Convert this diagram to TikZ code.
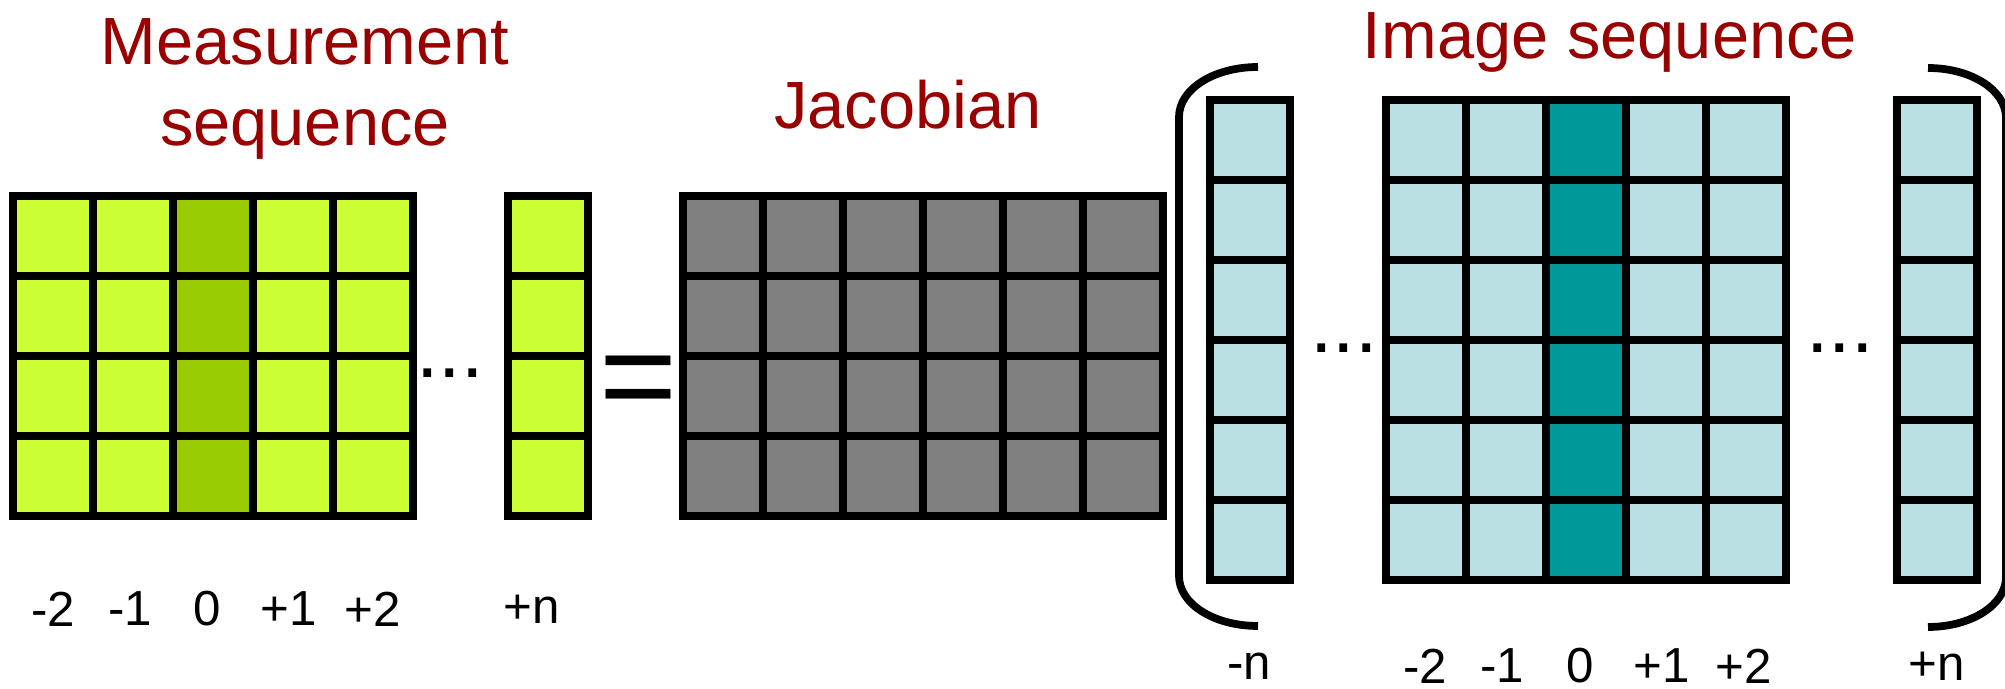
\documentclass[tikz,border=0pt]{standalone}
\usepackage{fontspec}
\setmainfont{Liberation Sans}
\usepackage{xcolor}
\usepackage{tikz}
\usetikzlibrary{positioning}
\definecolor{measgreen}{RGB}{204,255,51}
\definecolor{measdark}{RGB}{153,204,0}
\definecolor{jacgray}{RGB}{128,128,128}
\definecolor{imgblue}{RGB}{187,224,227}
\definecolor{imgteal}{RGB}{0,153,153}
\definecolor{titlered}{RGB}{153,0,0}

\begin{document}
\begin{tikzpicture}[x=0.01cm, y=-0.01cm,
      cell/.style={draw=black, line width=2.3pt, minimum width=0.8cm,
                   minimum height=0.8cm, inner sep=0pt, outer sep=0pt},
      title/.style={text=titlered, font=\fontsize{19pt}{23.3pt}\selectfont,
                    align=center, anchor=base},
      idx/.style={font=\fontsize{14pt}{16pt}\selectfont, inner sep=1pt},
      dots/.style={font=\fontsize{23pt}{26pt}\selectfont, inner sep=0pt},
      brk/.style={line width=2.2pt}
    ]
    \useasboundingbox (0,0) rectangle (2005,689);

    % measurement sequence
    \foreach \r in {0,...,3}{
      \foreach \c/\col in {0/measgreen,1/measgreen,2/measdark,3/measgreen,4/measgreen}
        \node[cell, fill=\col] (m-\r-\c) at ({53+80*\c},{236+80*\r}) {};
      \node[cell, fill=measgreen] (mn-\r) at (548,{236+80*\r}) {};
    }
    \node[dots] (mdots) at (450,373) {...};
    \node[font=\fontsize{38pt}{40pt}\selectfont, anchor=base] (eq) at (639,422) {=};

    % jacobian
    \foreach \r in {0,...,3}
      \foreach \c in {0,...,5}
        \node[cell, fill=jacgray] (j-\r-\c) at ({723+80*\c},{236+80*\r}) {};

    % image sequence
    \foreach \r in {0,...,5}{
      \node[cell, fill=imgblue] (in-\r) at (1250,{140+80*\r}) {};
      \foreach \c/\col in {0/imgblue,1/imgblue,2/imgteal,3/imgblue,4/imgblue}
        \node[cell, fill=\col] (i-\r-\c) at ({1426+80*\c},{140+80*\r}) {};
      \node[cell, fill=imgblue] (ip-\r) at (1937,{140+80*\r}) {};
    }
    \node[dots] (idots1) at (1344,348) {...};
    \node[dots] (idots2) at (1840,348) {...};

    % brackets
    \draw[brk] (1258,67) .. controls (1214,67) and (1179,89) .. (1179,117)
      -- (1179,576) .. controls (1179,604) and (1214,626) .. (1258,626);
    \draw[brk] (1928,68) .. controls (1971,68) and (2006,90) .. (2006,118)
      -- (2006,577) .. controls (2006,605) and (1971,627) .. (1928,627);

    % titles
    \node[title] (tmeas) at (305,146) {Measurement\\sequence};
    \node[title] (tjac) at (908,129) {Jacobian};
    \node[title] (timg) at (1610,59) {Image sequence};

    % indices
    \foreach \x/\t in {53/-2,130/-1,207/0,289/+1,373/+2,532/+n}
      \node[idx] at (\x,609) {\t};
    \foreach \x/\t in {1249/-n,1425/-2,1502/-1,1580/0,1662/+1,1744/+2,1937/+n}
      \node[idx] at (\x,666) {\t};
  \end{tikzpicture}
\end{document}
